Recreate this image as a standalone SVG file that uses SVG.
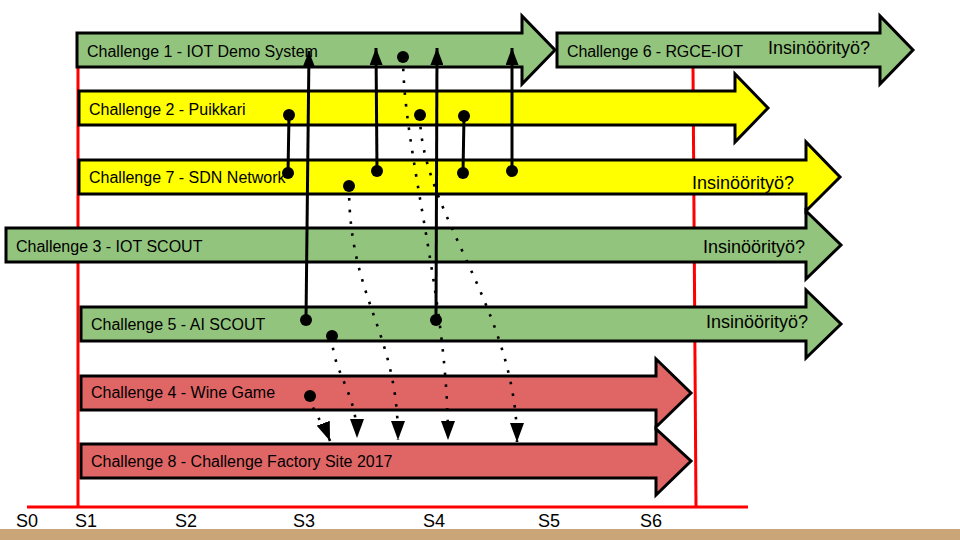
<svg xmlns="http://www.w3.org/2000/svg" width="960" height="540" viewBox="0 0 960 540">
<style>
  .green { fill: #93c47d; stroke: #000; stroke-width: 3; stroke-linejoin: miter; }
  .yellow { fill: #ffff00; stroke: #000; stroke-width: 3; }
  .red { fill: #e06666; stroke: #000; stroke-width: 3; }
  .lbl { font-family: "Liberation Sans", Arial, sans-serif; font-size: 16px; fill: #000; }
  .big { font-family: "Liberation Sans", Arial, sans-serif; font-size: 18px; fill: #000; }
  .axis { stroke: #ff0000; stroke-width: 3; fill: none; }
  .solid { stroke: #000; stroke-width: 3; fill: none; }
  .dotted { stroke: #000; stroke-width: 2.6; fill: none; stroke-dasharray: 2.6 9.2; }
  .dot { fill: #000; }
</style>
<defs>
  <marker id="ah" markerUnits="userSpaceOnUse" markerWidth="17" markerHeight="13" viewBox="0 0 17 13" refX="17" refY="6.5" orient="auto">
    <path d="M0,0 L17,6.5 L0,13 z" fill="#000"/>
  </marker>
  <marker id="ahd" markerUnits="userSpaceOnUse" markerWidth="19" markerHeight="14" viewBox="0 0 19 14" refX="19" refY="7" orient="auto">
    <path d="M0,0 L19,7 L0,14 z" fill="#000"/>
  </marker>
</defs>
<rect x="0" y="0" width="960" height="540" fill="#ffffff"/>
<rect x="0" y="529" width="960" height="11" fill="#c9a577"/>

<g id="timeline">
  <line class="axis" x1="78" y1="35" x2="78" y2="507"/>
  <line class="axis" x1="693" y1="67" x2="696" y2="507"/>
  <line class="axis" x1="27" y1="507" x2="748" y2="507"/>
  <text class="big" x="16" y="527">S0</text>
  <text class="big" x="75" y="527">S1</text>
  <text class="big" x="175" y="527">S2</text>
  <text class="big" x="293" y="527">S3</text>
  <text class="big" x="423" y="527">S4</text>
  <text class="big" x="538" y="527">S5</text>
  <text class="big" x="640" y="527">S6</text>
</g>

<g id="challenge1">
  <path class="green" d="M77,33 H522 V16 L555,50 L522,84 V67 H77 Z"/>
  <text class="lbl" x="87" y="57">Challenge 1 - IOT Demo System</text>
</g>
<g id="challenge6">
  <path class="green" d="M557,33 H880 V16 L913,50 L880,84 V67 H557 Z"/>
  <text class="lbl" x="567" y="57" textLength="176">Challenge 6 - RGCE-IOT</text>
  <text class="big" x="768" y="54">Insinöörityö?</text>
</g>
<g id="challenge2">
  <path class="yellow" d="M79,91 H735 V74 L768,108 L735,142 V125 H79 Z"/>
  <text class="lbl" x="89" y="115">Challenge 2 - Puikkari</text>
</g>
<g id="challenge7">
  <path class="yellow" d="M79,160 H806 V142 L840,177 L806,211 V194 H79 Z"/>
  <text class="lbl" x="89" y="183">Challenge 7 - SDN Network</text>
  <text class="big" x="692" y="189">Insinöörityö?</text>
</g>
<g id="challenge3">
  <path class="green" d="M6,228 H806 V211 L841,245 L806,279 V262 H6 Z"/>
  <text class="lbl" x="16" y="252">Challenge 3 - IOT SCOUT</text>
  <text class="big" x="703" y="253">Insinöörityö?</text>
</g>
<g id="challenge5">
  <path class="green" d="M81,307 H806 V290 L841,324 L806,358 V341 H81 Z"/>
  <text class="lbl" x="91" y="330">Challenge 5 - AI SCOUT</text>
  <text class="big" x="706" y="328">Insinöörityö?</text>
</g>
<g id="challenge4">
  <path class="red" d="M81,376 H656 V359 L691,393 L656,427 V410 H81 Z"/>
  <text class="lbl" x="91" y="398">Challenge 4 - Wine Game</text>
</g>
<g id="challenge8">
  <path class="red" d="M81,444 H656 V429 L691,461 L656,495 V478 H81 Z"/>
  <text class="lbl" x="91" y="467">Challenge 8 - Challenge Factory Site 2017</text>
</g>

<g id="connectors">
  <!-- solid links up to Challenge 1 -->
  <line class="solid" x1="306" y1="320" x2="309" y2="51" marker-end="url(#ah)"/>
  <circle class="dot" cx="306" cy="320" r="6"/>
  <line class="solid" x1="377" y1="171" x2="376" y2="48" marker-end="url(#ah)"/>
  <circle class="dot" cx="377" cy="171" r="6"/>
  <line class="solid" x1="436" y1="320" x2="437" y2="48" marker-end="url(#ah)"/>
  <circle class="dot" cx="436" cy="320" r="6"/>
  <line class="solid" x1="512" y1="171" x2="512" y2="48" marker-end="url(#ah)"/>
  <circle class="dot" cx="512" cy="171" r="6"/>
  <!-- solid links between Challenge 2 and 7 -->
  <line class="solid" x1="289" y1="115" x2="288" y2="173"/>
  <circle class="dot" cx="289" cy="115" r="6"/>
  <circle class="dot" cx="288" cy="173" r="6"/>
  <line class="solid" x1="464" y1="116" x2="463" y2="173"/>
  <circle class="dot" cx="464" cy="116" r="6"/>
  <circle class="dot" cx="463" cy="173" r="6"/>
  <!-- dotted links down to Challenge 8 -->
  <path class="dotted" d="M403,57 C403,150 448,300 448,440" marker-end="url(#ahd)"/>
  <circle class="dot" cx="403" cy="57" r="6"/>
  <path class="dotted" d="M420,115 C420,210 517,310 517,442" marker-end="url(#ahd)"/>
  <circle class="dot" cx="420" cy="115" r="6"/>
  <path class="dotted" d="M349,186 C349,300 398,330 398,440" marker-end="url(#ahd)"/>
  <circle class="dot" cx="349" cy="186" r="6"/>
  <path class="dotted" d="M332,336 C332,372 357,392 357,438" marker-end="url(#ahd)"/>
  <circle class="dot" cx="332" cy="336" r="6"/>
  <path class="dotted" d="M310,396 C312,412 322,420 330,441" marker-end="url(#ahd)"/>
  <circle class="dot" cx="310" cy="396" r="6"/>
</g>
</svg>
